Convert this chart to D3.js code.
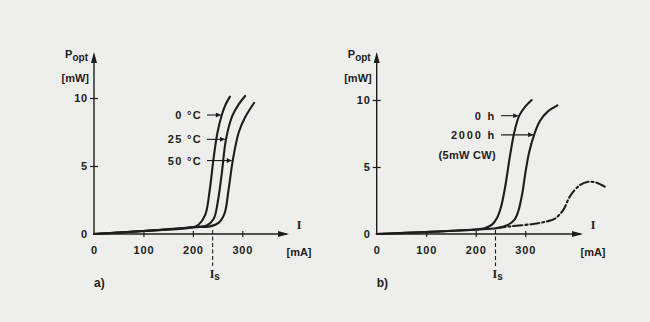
<!DOCTYPE html>
<html>
<head>
<meta charset="utf-8">
<script src="https://cdn.jsdelivr.net/npm/d3@7"></script>
<style>
  body { margin: 0; background: #eeeeec; }
  svg { display: block; }
  text { font-family: 'Liberation Sans', Arial, sans-serif; fill: #1d1d1d; font-weight: bold; }
</style>
</head>
<body>
<svg id="chart" width="650" height="322"></svg>
<script>
// tick values shared by both panels
const xTicks = [0, 100, 200, 300]
const yTicks = [0, 5, 10]
const thresholdCurrent = 240

// panel a) temperature curves [mA, mW]
const curve0C = [[0, 0], [100, 0.22], [200, 0.5], [212, 0.7], [225, 1.4], [234, 3.2], [242, 5.6], [250, 7.5], [258.5, 8.75], [266, 9.5], [275, 10.1]]
const curve25C = [[0, 0], [100, 0.22], [200, 0.5], [228, 0.62], [242, 1.1], [251, 2.5], [258.5, 4.46], [267, 6.96], [280, 8.7], [293, 9.55], [305.7, 10.15]]
const curve50C = [[0, 0], [100, 0.22], [200, 0.5], [235, 0.56], [252, 0.82], [264, 1.5], [272, 3.2], [280.7, 5.4], [293, 7.5], [306, 8.6], [324, 9.65]]
const tempLabels = ['0 °C', '25 °C', '50 °C']
const tempTargets = [[258.5, 8.75], [267, 6.96], [280.7, 5.4]]

// panel b) ageing curves [mA, mW]
const curve0h = [[0, 0], [100, 0.15], [200, 0.33], [218, 0.43], [233, 0.7], [243, 1.2], [251, 2.0], [259, 3.4], [269, 5.77], [278, 7.6], [288, 8.83], [300, 9.5], [313, 10.0]]
const curve2000h = [[0, 0], [100, 0.15], [200, 0.33], [242, 0.43], [265, 0.68], [278, 1.05], [286, 1.7], [294, 3.0], [301, 4.7], [308, 6.1], [318, 7.4], [330, 8.45], [346, 9.15], [365, 9.6]]
const curveFailed = [[242, 0.45], [270, 0.57], [316, 0.75], [345, 0.95], [360, 1.15], [377, 1.8], [391, 2.85], [411, 3.66], [427.5, 3.9], [444, 3.83], [461, 3.53]]
const ageLabels = ['0 h', '2000 h']
const ageTargets = [[288, 8.83], [318, 7.4]]

const ink = '#1d1d1d'
const svg = d3.select('#chart')

svg.append('defs').append('marker')
  .attr('id', 'tip')
  .attr('viewBox', '0 0 10 10')
  .attr('refX', 10).attr('refY', 5)
  .attr('markerWidth', 6).attr('markerHeight', 5)
  .attr('markerUnits', 'userSpaceOnUse')
  .attr('orient', 'auto')
  .append('path')
  .attr('d', 'M0,0 L10,5 L0,10 Z')
  .style('fill', ink)

function drawPanel (opts) {
  const x = d3.scaleLinear().domain([0, 300]).range([opts.x0, opts.x300])
  const y = d3.scaleLinear().domain([0, 10]).range([234, opts.y10])
  const g = svg.append('g')
  const line = d3.line().x(d => x(d[0])).y(d => y(d[1])).curve(d3.curveCatmullRom.alpha(0.5))

  // x axis
  const xa = g.append('g')
    .attr('transform', `translate(0,${y(0)})`)
    .call(d3.axisBottom(x).tickValues(xTicks).tickSize(0).tickPadding(12))
  xa.select('.domain').remove()
  xa.selectAll('.tick line')
    .attr('y1', -3).attr('y2', 3)
    .style('stroke', ink).style('stroke-width', 1.2)
  xa.selectAll('.tick').filter(d => d === 0).select('line').remove()
  xa.selectAll('text')
    .style('font-size', '11px').style('letter-spacing', '0.8px')
    .style('font-family', 'Liberation Sans, Arial, sans-serif').style('fill', ink)

  // y axis
  const ya = g.append('g')
    .attr('transform', `translate(${x(0)},0)`)
    .call(d3.axisLeft(y).tickValues(yTicks).tickSize(0).tickPadding(6))
  ya.select('.domain').remove()
  ya.selectAll('.tick line')
    .attr('x1', -4).attr('x2', 4)
    .style('stroke', ink).style('stroke-width', 1.2)
  ya.selectAll('.tick').filter(d => d === 0).select('line').remove()
  ya.selectAll('text')
    .style('font-size', '11px').style('letter-spacing', '0.8px')
    .style('font-family', 'Liberation Sans, Arial, sans-serif').style('fill', ink)

  // axis lines with arrows
  g.append('line')
    .attr('x1', x(0)).attr('x2', opts.xEnd)
    .attr('y1', y(0)).attr('y2', y(0))
    .style('stroke', ink).style('stroke-width', 1.4)
  g.append('path')
    .attr('d', `M${opts.xEnd + 2},${y(0)} l-11,-3 l0,6 Z`)
    .style('fill', ink)
  g.append('line')
    .attr('x1', x(0)).attr('x2', x(0))
    .attr('y1', y(0)).attr('y2', 58)
    .style('stroke', ink).style('stroke-width', 1.4)
  g.append('path')
    .attr('d', `M${x(0)},52 l-3,11 l6,0 Z`)
    .style('fill', ink)

  // threshold current
  g.append('line')
    .attr('x1', x(thresholdCurrent)).attr('x2', x(thresholdCurrent))
    .attr('y1', y(0) - 4).attr('y2', 266)
    .style('stroke', ink).style('stroke-width', 1.1)
    .style('stroke-dasharray', '4,2.5')
  const is = g.append('text')
    .attr('x', x(thresholdCurrent) - 3).attr('y', 278)
    .style('font-size', '12px')
  is.append('tspan').style('font-family', 'Liberation Serif, serif').text('I')
  is.append('tspan').attr('dy', 2).style('font-size', '10px').text('s')

  // axis titles
  const p = g.append('text')
    .attr('x', x(0) - 6).attr('y', 58)
    .attr('text-anchor', 'end')
    .style('font-size', '11px')
  p.append('tspan').text('P')
  p.append('tspan').attr('dy', 3).style('font-size', '10px').text('opt')
  g.append('text')
    .attr('x', x(0) - 5).attr('y', 82)
    .attr('text-anchor', 'end')
    .style('font-size', '11px')
    .text('[mW]')
  g.append('text')
    .attr('x', opts.xEnd + 12).attr('y', 229)
    .attr('text-anchor', 'middle')
    .style('font-size', '12px')
    .style('font-family', 'Liberation Serif, serif')
    .text('I')
  g.append('text')
    .attr('x', opts.xEnd + 12).attr('y', 256)
    .attr('text-anchor', 'middle')
    .style('font-size', '11px')
    .text('[mA]')
  g.append('text')
    .attr('x', x(0)).attr('y', 287)
    .style('font-size', '12px')
    .text(opts.tag)

  // curves
  opts.curves.forEach(c => {
    g.append('path')
      .attr('d', line(c.data))
      .style('fill', 'none')
      .style('stroke', ink)
      .style('stroke-width', 2.1)
      .style('stroke-linecap', 'round')
      .style('stroke-dasharray', c.dash || null)
  })

  // curve labels with arrows
  opts.labels.forEach((lab, i) => {
    const t = opts.targets[i]
    const ty = y(t[1])
    g.append('text')
      .attr('x', opts.labelRight).attr('y', ty + 4)
      .attr('text-anchor', 'end')
      .style('font-size', '11px')
      .style('letter-spacing', opts.labelSpacing)
      .text(lab)
    g.append('line')
      .attr('x1', opts.labelRight + 5).attr('x2', x(t[0]) - 1)
      .attr('y1', ty).attr('y2', ty)
      .attr('marker-end', 'url(#tip)')
      .style('stroke', ink).style('stroke-width', 1.1)
  })
  return { x, y, g }
}

drawPanel({
  x0: 94, x300: 242.3, y10: 98, xEnd: 287, tag: 'a)', labelRight: 202, labelSpacing: '1.3px',
  curves: [{ data: curve0C }, { data: curve25C }, { data: curve50C }],
  labels: tempLabels, targets: tempTargets
})

const pb = drawPanel({
  x0: 376.7, x300: 525.2, y10: 100, xEnd: 581, tag: 'b)', labelRight: 496, labelSpacing: '1.8px',
  curves: [{ data: curve0h }, { data: curve2000h }, { data: curveFailed, dash: '9,3,2,3' }],
  labels: ageLabels, targets: ageTargets
})

pb.g.append('text')
  .attr('x', 496).attr('y', 159)
  .attr('text-anchor', 'end')
  .style('font-size', '11px')
  .style('letter-spacing', '0.3px')
  .text('(5mW CW)')
</script>
</body>
</html>
